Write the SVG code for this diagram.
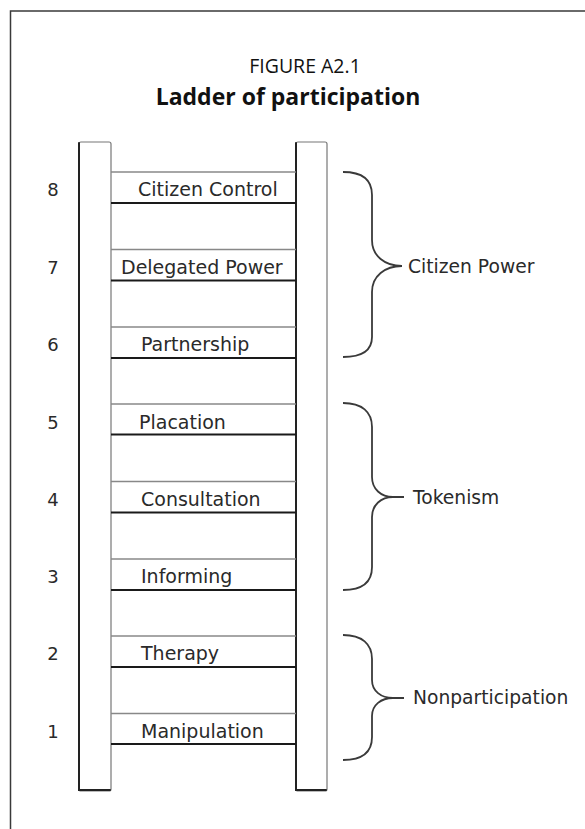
<svg xmlns="http://www.w3.org/2000/svg" width="585" height="829" viewBox="0 0 585 829">
<style>
.frame{fill:none;stroke:#3a3a3a;stroke-width:1.5}
.rail{fill:#fff;stroke:#777;stroke-width:1.2}
.raild{fill:none;stroke:#222;stroke-width:2;stroke-linecap:round}
.rt{stroke:#888;stroke-width:1.3}
.rb{stroke:#1a1a1a;stroke-width:2.2}
.lbl{font-family:"DejaVu Sans",sans-serif;font-size:19px;fill:#2a2a2a}
.blbl{font-family:"DejaVu Sans",sans-serif;font-size:18.7px;fill:#2a2a2a}
.num{font-family:"DejaVu Sans",sans-serif;font-size:18px;fill:#2a2a2a;text-anchor:middle}
.brace{fill:none;stroke:#3a3a3a;stroke-width:1.8}
.t1{font-family:"Open Sans","Noto Sans",sans-serif;font-size:19.5px;fill:#111;text-anchor:middle}
.t2{font-family:"Open Sans","Noto Sans",sans-serif;font-size:23px;font-weight:bold;fill:#111;text-anchor:middle}
</style>
<path class="frame" d="M585,11 H10.5 V829"/>
<g id="title">
<text class="t1" x="305" y="73">FIGURE A2.1</text>
<text class="t2" x="288" y="105">Ladder of participation</text>
</g>
<g id="ladder">
<rect class="rail" x="79" y="142" width="32" height="649" rx="2"/>
<path class="raild" d="M79,143 V790 H110"/>
<rect class="rail" x="296" y="142" width="31" height="649" rx="2"/>
<path class="raild" d="M296,143 V790 H326"/>
</g>
<g id="connectors">
<line class="rt" x1="111" y1="172" x2="296" y2="172"/><line class="rb" x1="111" y1="203" x2="296" y2="203"/>
<line class="rt" x1="111" y1="249.5" x2="296" y2="249.5"/><line class="rb" x1="111" y1="280.5" x2="296" y2="280.5"/>
<line class="rt" x1="111" y1="327" x2="296" y2="327"/><line class="rb" x1="111" y1="358" x2="296" y2="358"/>
<line class="rt" x1="111" y1="404" x2="296" y2="404"/><line class="rb" x1="111" y1="434.5" x2="296" y2="434.5"/>
<line class="rt" x1="111" y1="481.5" x2="296" y2="481.5"/><line class="rb" x1="111" y1="512.5" x2="296" y2="512.5"/>
<line class="rt" x1="111" y1="559" x2="296" y2="559"/><line class="rb" x1="111" y1="590" x2="296" y2="590"/>
<line class="rt" x1="111" y1="636" x2="296" y2="636"/><line class="rb" x1="111" y1="667" x2="296" y2="667"/>
<line class="rt" x1="111" y1="713.5" x2="296" y2="713.5"/><line class="rb" x1="111" y1="744" x2="296" y2="744"/>
</g>
<g id="rung8"><text class="num" x="53" y="196">8</text><text class="lbl" x="138" y="196">Citizen Control</text></g>
<g id="rung7"><text class="num" x="53" y="274">7</text><text class="lbl" x="121" y="274">Delegated Power</text></g>
<g id="rung6"><text class="num" x="53" y="351">6</text><text class="lbl" x="141" y="351">Partnership</text></g>
<g id="rung5"><text class="num" x="53" y="429">5</text><text class="lbl" x="139" y="429">Placation</text></g>
<g id="rung4"><text class="num" x="53" y="506">4</text><text class="lbl" x="141" y="506">Consultation</text></g>
<g id="rung3"><text class="num" x="53" y="583">3</text><text class="lbl" x="141" y="583">Informing</text></g>
<g id="rung2"><text class="num" x="53" y="660">2</text><text class="lbl" x="141" y="660">Therapy</text></g>
<g id="rung1"><text class="num" x="53" y="738">1</text><text class="lbl" x="141" y="738">Manipulation</text></g>
<g id="citizen-power">
<path class="brace" d="M343,172 C362,172 372,180 372,195 L372,240 C372,256 385,266 402,266 C385,266 372,276 372,292 L372,337 C372,350 362,357 343,357"/>
<text class="blbl" x="408" y="273">Citizen Power</text>
</g>
<g id="tokenism">
<path class="brace" d="M343,403 C362,403 372,412 372,427 L372,477 C372,489 381,497 393,497 H404 M393,497 C381,497 372,505 372,517 L372,567 C372,582 362,590 343,590"/>
<text class="blbl" x="413" y="504">Tokenism</text>
</g>
<g id="nonparticipation">
<path class="brace" d="M343,635 C362,635 372,644 372,659 L372,680 C372,691 381,698 393,698 H404 M393,698 C381,698 372,705 372,716 L372,737 C372,752 362,760 343,760"/>
<text class="blbl" x="413" y="704">Nonparticipation</text>
</g>
</svg>
